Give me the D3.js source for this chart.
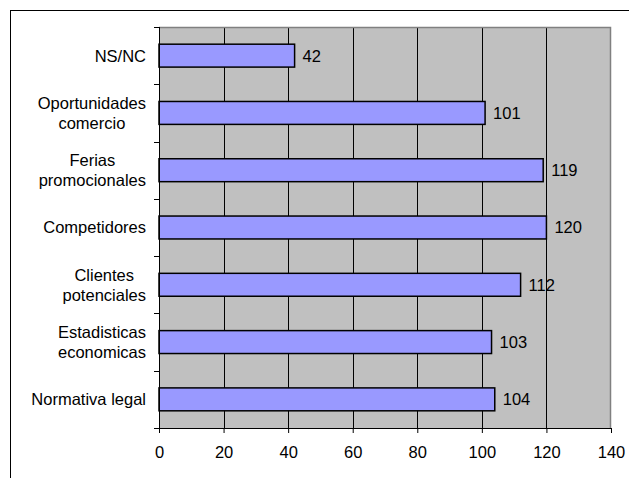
<!DOCTYPE html>
<html>
<head>
<meta charset="utf-8">
<script src="https://cdn.jsdelivr.net/npm/d3@7"></script>
<style>
  html, body { margin: 0; padding: 0; background: #fff; }
  svg { display: block; }
  text { font-family: "Liberation Sans", Arial, sans-serif; fill: #000; }
</style>
</head>
<body>
<svg id="chart" width="629" height="478"></svg>
<script>
const categories = ["NS/NC", "Oportunidades\ncomercio", "Ferias\npromocionales", "Competidores", "Clientes\npotenciales", "Estadisticas\neconomicas", "Normativa legal"];
const values = [42, 101, 119, 120, 112, 103, 104];
const xTicks = [0, 20, 40, 60, 80, 100, 120, 140];

const svg = d3.select("#chart");
const fontSize = 16.5;

// outer chart border (extends past right/bottom edge)
svg.append("rect").attr("x", 10.5).attr("y", 10.5).attr("width", 700).attr("height", 700)
  .attr("fill", "none").attr("stroke", "#000").attr("stroke-width", 1);

const pLeft = 159, pRight = 611, pTop = 27, pBottom = 428;
const x = d3.scaleLinear().domain([0, 140]).range([pLeft, pRight]);
const y = d3.scaleBand().domain(categories).range([pTop, pBottom]).paddingInner(0.6).paddingOuter(0.3);

// plot area
svg.append("rect").attr("x", pLeft).attr("y", pTop).attr("width", pRight - pLeft).attr("height", pBottom - pTop)
  .attr("fill", "#C0C0C0");

// gridlines
svg.append("g").selectAll("line").data(xTicks.slice(1, -1)).join("line")
  .attr("x1", d => Math.round(x(d)) + 0.5).attr("x2", d => Math.round(x(d)) + 0.5)
  .attr("y1", pTop).attr("y2", pBottom)
  .attr("stroke", "#000").attr("stroke-width", 1);

// plot border top/right
svg.append("path").attr("d", `M${pLeft},${pTop + 0.5}H${pRight - 0.5}V${pBottom}`)
  .attr("fill", "none").attr("stroke", "#808080").attr("stroke-width", 1.5);

// bars
svg.append("g").selectAll("rect").data(values).join("rect")
  .attr("x", x(0))
  .attr("y", (d, i) => y(categories[i]))
  .attr("width", d => x(d) - x(0))
  .attr("height", y.bandwidth())
  .attr("fill", "#9999FF").attr("stroke", "#000").attr("stroke-width", 1.5);

// value labels
svg.append("g").selectAll("text").data(values).join("text")
  .attr("x", d => x(d) + 8)
  .attr("y", (d, i) => y(categories[i]) + y.bandwidth() / 2)
  .attr("dy", "0.36em")
  .attr("font-size", fontSize)
  .text(d => d);

// x axis
const xAxis = d3.axisBottom(x).tickValues(xTicks).tickSize(5).tickPadding(13).tickFormat(d3.format("d"));
const gx = svg.append("g").attr("transform", `translate(0,${pBottom})`).call(xAxis);
gx.select(".domain").attr("d", `M${pLeft - 5},0.5H${pRight}`).attr("stroke", "#000");
gx.selectAll(".tick line").attr("stroke", "#000");
gx.selectAll("text").attr("font-size", fontSize).attr("font-family", null).style("fill", "#000");

// y axis line and ticks at band boundaries
svg.append("line").attr("x1", pLeft + 0.5).attr("x2", pLeft + 0.5).attr("y1", pTop).attr("y2", pBottom)
  .attr("stroke", "#000").attr("stroke-width", 1);
const step = y.step();
svg.append("g").selectAll("line").data(d3.range(categories.length + 1)).join("line")
  .attr("x1", pLeft - 5).attr("x2", pLeft)
  .attr("y1", i => Math.round(pTop + i * step) + 0.5).attr("y2", i => Math.round(pTop + i * step) + 0.5)
  .attr("stroke", "#000");

// category labels
const lineH = 20;
const labelRight = 146;
categories.forEach((c, i) => {
  const lines = c.split("\n");
  const cy = y(c) + y.bandwidth() / 2;
  const g = svg.append("g");
  const texts = lines.map((ln, j) => g.append("text")
    .attr("y", cy + (j - (lines.length - 1) / 2) * lineH)
    .attr("dy", "0.36em")
    .attr("font-size", fontSize)
    .attr("text-anchor", "middle")
    .text(ln));
  const maxW = d3.max(texts, t => t.node().getComputedTextLength());
  texts.forEach(t => t.attr("x", labelRight - maxW / 2));
});
</script>
</body>
</html>
